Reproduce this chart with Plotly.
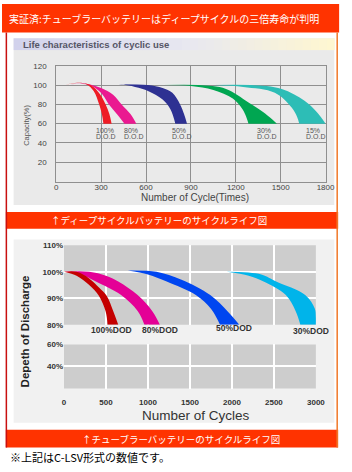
import plotly.graph_objects as go

W, H = 352, 472

# ---------------- Chart 1 : deep-cycle battery ----------------
c1_x_ticks = [0, 300, 600, 900, 1200, 1500, 1800]
c1_y_ticks = [20, 40, 60, 80, 100, 120]

red1_in_x = [59, 120, 200, 250, 287, 305, 315]
red1_in_y = [100, 102, 101, 94, 80, 70, 60]
red1_out_x = [59, 140, 230, 290, 330, 355, 370]
red1_out_y = [100, 102.5, 100, 91, 80, 70, 60]

pink1_in_x = [90, 200, 260, 310, 352, 405, 456]
pink1_in_y = [101, 101, 97, 90, 80, 70, 60]
pink1_out_x = [90, 200, 300, 380, 437, 496, 535]
pink1_out_y = [101, 101.5, 97, 90, 80, 70, 60]

blue1_in_x = [417, 450, 613, 711, 763, 796]
blue1_in_y = [101, 100.5, 94, 85, 75, 60]
blue1_out_x = [417, 613, 711, 776, 828, 854, 874]
blue1_out_y = [101, 100, 97, 92, 80, 70, 60]

green1_in_x = [711, 900, 1050, 1180, 1245, 1270, 1285]
green1_in_y = [100, 99, 95, 86, 75, 67, 60]
green1_out_x = [711, 950, 1135, 1285, 1396, 1475]
green1_out_y = [100, 100, 96, 82, 70.5, 60]

teal1_in_x = [1050, 1250, 1461, 1572, 1610, 1624]
teal1_in_y = [100, 98, 92, 77, 67, 60]
teal1_out_x = [1050, 1300, 1507, 1657, 1741, 1800]
teal1_out_y = [100, 100, 96, 84, 72, 60]

c1_dod_labels = ["100%", "80%", "50%", "30%", "15%"]
c1_dod_x = [254, 437, 757, 1331, 1657]

# ---------------- Chart 2 : tubular battery ----------------
c2_x_ticks = [0, 500, 1000, 1500, 2000, 2500, 3000]
c2_upper_ticks = [80, 90, 100, 110]
c2_upper_text = ["80%", "90%", "100%", "110%"]
c2_lower_ticks = [40, 60]
c2_lower_text = ["40%", "60%"]

red2_in_x = [0, 150, 300, 415, 496, 519]
red2_in_y = [100, 98.5, 95, 91, 85, 80]
red2_out_x = [0, 150, 300, 420, 508, 588, 646]
red2_out_y = [100, 100, 97.5, 94, 91, 85, 80]

pink2_in_x = [0, 200, 380, 680, 877, 958]
pink2_in_y = [100, 99, 96.3, 91.2, 85.2, 80]
pink2_out_x = [0, 300, 500, 646, 877, 1050, 1142]
pink2_out_y = [100, 100, 98.5, 96.3, 91.2, 85.2, 80]

blue2_in_x = [760, 1000, 1223, 1570, 1750, 1858]
blue2_in_y = [100.5, 99, 96.3, 91.2, 86, 80]
blue2_out_x = [760, 1100, 1400, 1742, 1950, 2088]
blue2_out_y = [100.5, 100, 97, 91.2, 85, 80]

cyan2_in_x = [1938, 2200, 2377, 2642, 2758, 2815]
cyan2_in_y = [100, 98.5, 96.3, 91.2, 85.2, 80]
cyan2_out_x = [1938, 2350, 2527, 2873, 2988, 3000, 3000]
cyan2_out_y = [100, 99, 96.3, 91.2, 86, 83, 80]

c2_dod_labels = ["100%DOD", "80%DOD", "50%DOD", "30%DOD"]
c2_dod_x = [565, 1142, 2019, 2942]

# ---------------- texts ----------------
title_text = "実証済:チューブラーバッテリーはディープサイクルの三倍寿命が判明"
header_text = "Life characteristics of cyclic use"
caption1 = "↑ディープサイクルバッテリーのサイクルライフ図"
caption2 = "↑チューブラーバッテリーのサイクルライフ図"
footnote = "※上記はC-LSV形式の数値です。"

JP = "Noto Sans CJK JP"
LAT = "Liberation Sans, Arial, sans-serif"

fig = go.Figure()


def add_band(xi, yi, xo, yo, color, xa, ya):
    fig.add_trace(go.Scatter(x=xi, y=yi, mode="lines",
                             line=dict(width=0, shape="spline", color=color),
                             xaxis=xa, yaxis=ya, hoverinfo="skip", showlegend=False))
    fig.add_trace(go.Scatter(x=xo, y=yo, mode="lines",
                             line=dict(width=0, shape="spline", color=color),
                             fill="tonexty", fillcolor=color,
                             xaxis=xa, yaxis=ya, hoverinfo="skip", showlegend=False))


# chart 1 bands
add_band(pink1_in_x, pink1_in_y, pink1_out_x, pink1_out_y, "#EA1990", "x", "y")
add_band(red1_in_x, red1_in_y, red1_out_x, red1_out_y, "#EE1C25", "x", "y")
add_band(blue1_in_x, blue1_in_y, blue1_out_x, blue1_out_y, "#2E3192", "x", "y")
add_band(teal1_in_x, teal1_in_y, teal1_out_x, teal1_out_y, "#2DBDB6", "x", "y")
add_band(green1_in_x, green1_in_y, green1_out_x, green1_out_y, "#00A651", "x", "y")

# chart 2 bands
add_band(pink2_in_x, pink2_in_y, pink2_out_x, pink2_out_y, "#E40096", "x2", "y2")
add_band(red2_in_x, red2_in_y, red2_out_x, red2_out_y, "#C40000", "x2", "y2")
add_band(blue2_in_x, blue2_in_y, blue2_out_x, blue2_out_y, "#0046F0", "x2", "y2")
add_band(cyan2_in_x, cyan2_in_y, cyan2_out_x, cyan2_out_y, "#00B4EA", "x2", "y2")

# empty trace for lower block axes
fig.add_trace(go.Scatter(x=[], y=[], xaxis="x3", yaxis="y3", showlegend=False))


def py(y):
    return 1 - y / H


def px(x):
    return x / W


shapes = []


def rect(x0, y0, x1, y1, color):
    shapes.append(dict(type="rect", xref="paper", yref="paper",
                       x0=px(x0), x1=px(x1), y0=py(y1), y1=py(y0),
                       fillcolor=color, line=dict(width=0), layer="below"))


rect(0, 0, 348, 29, "#FF3300")
rect(12, 35, 343, 205, "#EAEAEA")
# header gradient
n = 40
stops = [(0.0, (210, 210, 236)), (0.55, (232, 232, 240)), (1.0, (255, 247, 208))]


def grad(t):
    for (t0, c0), (t1, c1) in zip(stops[:-1], stops[1:]):
        if t <= t1:
            f = (t - t0) / (t1 - t0)
            return tuple(int(round(a + (b - a) * f)) for a, b in zip(c0, c1))
    return stops[-1][1]


for i in range(n):
    xa = 12 + (343 - 12) * i / n
    xb = 12 + (343 - 12) * (i + 1) / n + 0.5
    r, g, b = grad((i + 0.5) / n)
    rect(xa, 35, xb, 47, f"rgb({r},{g},{b})")
rect(4, 212, 347, 229, "#FF3300")
rect(12, 240, 343, 427, "#F1F1F1")
rect(4, 434, 347, 452, "#FF3300")
# frame lines
shapes.append(dict(type="line", xref="paper", yref="paper", x0=px(4.5), x1=px(4.5),
                   y0=py(452), y1=py(29), line=dict(color="#C81010", width=1.5), layer="below"))
shapes.append(dict(type="line", xref="paper", yref="paper", x0=px(346), x1=px(346),
                   y0=py(452), y1=py(29), line=dict(color="#F07828", width=1.5), layer="below"))
# chart2 gray blocks
for xr, yr in (("x2 domain", "y2 domain"), ("x3 domain", "y3 domain")):
    shapes.append(dict(type="rect", xref=xr, yref=yr, x0=0, x1=1, y0=0, y1=1,
                       fillcolor="#CDCDCD", line=dict(width=0), layer="below"))

ann = []
ann.append(dict(text=title_text, x=px(5), y=py(14.5), xref="paper", yref="paper",
                xanchor="left", yanchor="middle", showarrow=False,
                font=dict(family=JP, size=10, color="white")))
ann.append(dict(text="<b>" + header_text + "</b>", x=px(20), y=py(41), xref="paper", yref="paper",
                xanchor="left", yanchor="middle", showarrow=False,
                font=dict(family=LAT, size=9.5, color="#555566")))
ann.append(dict(text="Number of Cycle(Times)", x=px(199), y=py(197), xref="paper", yref="paper",
                xanchor="center", yanchor="middle", showarrow=False,
                font=dict(family=LAT, size=10, color="#444444")))
ann.append(dict(text="Capacity(%)", x=px(25), y=py(124), xref="paper", yref="paper",
                xanchor="center", yanchor="middle", showarrow=False, textangle=-90,
                font=dict(family="Liberation Sans Narrow, " + LAT, size=7.5, color="#555555")))
for lab, xv in zip(c1_dod_labels, c1_dod_x):
    ann.append(dict(text=lab, x=xv, y=52.9, xref="x", yref="y", xanchor="left",
                    yanchor="middle", showarrow=False,
                    font=dict(family=LAT, size=7, color="#555555")))
    ann.append(dict(text="D.O.D", x=xv, y=46.3, xref="x", yref="y", xanchor="left",
                    yanchor="middle", showarrow=False,
                    font=dict(family=LAT, size=7, color="#555555")))
ann.append(dict(text=caption1, x=px(162), y=py(220.5), xref="paper", yref="paper",
                xanchor="center", yanchor="middle", showarrow=False,
                font=dict(family=JP, size=9.5, color="white")))
ann.append(dict(text="<b>Depeth of Discharge</b>", x=px(23.5), y=py(334), xref="paper", yref="paper",
                xanchor="center", yanchor="middle", showarrow=False, textangle=-90,
                font=dict(family=LAT, size=11.5, color="#222222")))
ann.append(dict(text="Number of Cycles", x=px(200), y=py(420), xref="paper", yref="paper",
                xanchor="center", yanchor="middle", showarrow=False,
                font=dict(family=LAT, size=13.5, color="#333333")))
for lab, xv, ypix in zip(c2_dod_labels, c2_dod_x, [332, 332, 330, 333]):
    ann.append(dict(text="<b>" + lab + "</b>", x=xv, y=py(ypix), xref="x2", yref="paper",
                    xanchor="center", yanchor="middle", showarrow=False,
                    font=dict(family=LAT, size=8.5, color="#333333")))
ann.append(dict(text=caption2, x=px(185), y=py(443), xref="paper", yref="paper",
                xanchor="center", yanchor="middle", showarrow=False,
                font=dict(family=JP, size=9.5, color="white")))
ann.append(dict(text=footnote, x=px(6), y=py(462), xref="paper", yref="paper",
                xanchor="left", yanchor="middle", showarrow=False,
                font=dict(family=JP, size=11, color="black")))

tick1 = dict(family=LAT, size=8, color="#444444")
tick2 = dict(family=LAT, size=8, color="#333333", weight="bold")

fig.update_layout(
    width=W, height=H, margin=dict(l=0, r=0, t=0, b=0),
    paper_bgcolor="white", plot_bgcolor="rgba(0,0,0,0)",
    shapes=shapes, annotations=ann,
    xaxis=dict(domain=[px(56), px(334)], range=[0, 1800], tickvals=c1_x_ticks,
               showgrid=True, gridcolor="#8F8F8F", gridwidth=1, zeroline=False,
               showline=True, linecolor="#8F8F8F", mirror=True,
               tickfont=tick1, anchor="y", fixedrange=True,
               ticks="", ticklabelstandoff=-2),
    yaxis=dict(domain=[py(181), py(63)], range=[0, 120], tickvals=c1_y_ticks,
               showgrid=True, gridcolor="#8F8F8F", gridwidth=1, zeroline=False,
               showline=True, linecolor="#8F8F8F", mirror=True,
               tickfont=tick1, anchor="x", fixedrange=True,
               ticks="outside", ticklen=7, tickcolor="rgba(0,0,0,0)"),
    xaxis2=dict(domain=[px(64), px(324)], range=[0, 3000], tickvals=c2_x_ticks,
                showticklabels=False, showgrid=True, gridcolor="white", gridwidth=2,
                zeroline=False, anchor="y2", fixedrange=True),
    yaxis2=dict(domain=[py(327), py(246)], range=[80, 110], tickvals=c2_upper_ticks,
                ticktext=c2_upper_text, showgrid=True, gridcolor="white", gridwidth=2,
                zeroline=False, anchor="x2", tickfont=tick2, fixedrange=True),
    xaxis3=dict(domain=[px(64), px(324)], range=[0, 3000], tickvals=c2_x_ticks,
                showgrid=True, gridcolor="white", gridwidth=2, zeroline=False,
                anchor="y3", tickfont=tick2, fixedrange=True,
                ticks="outside", ticklen=6, tickcolor="rgba(0,0,0,0)"),
    yaxis3=dict(domain=[py(392), py(347)], range=[20, 60], tickvals=c2_lower_ticks,
                ticktext=c2_lower_text, showgrid=True, gridcolor="white", gridwidth=2,
                zeroline=False, anchor="x3", tickfont=tick2, fixedrange=True),
)

fig.write_html("out.html")
